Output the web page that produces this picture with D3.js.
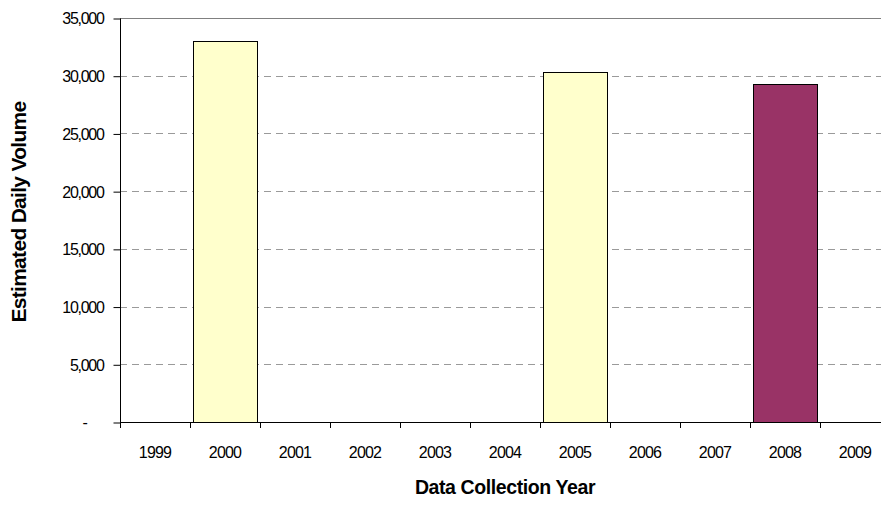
<!DOCTYPE html>
<html>
<head>
<meta charset="utf-8">
<script src="https://cdn.jsdelivr.net/npm/d3@7"></script>
<style>
  html, body { margin: 0; padding: 0; background: #fff; }
  svg { display: block; font-family: "Liberation Sans", Arial, sans-serif; }
</style>
</head>
<body>
<svg id="chart" width="881" height="506"></svg>
<script>
const years = ["1999","2000","2001","2002","2003","2004","2005","2006","2007","2008","2009"];
const volumes = [null, 33050, null, null, null, null, 30300, null, null, 29300, null];
const barColors = ["#FFFFCC","#FFFFCC","#FFFFCC","#FFFFCC","#FFFFCC","#FFFFCC","#FFFFCC","#FFFFCC","#FFFFCC","#993366","#FFFFCC"];
const yTicks = [0, 5000, 10000, 15000, 20000, 25000, 30000, 35000];
const yTickLabels = ["-", "5,000", "10,000", "15,000", "20,000", "25,000", "30,000", "35,000"];
const xTitle = "Data Collection Year";
const yTitle = "Estimated Daily Volume";

const svg = d3.select("#chart");
const pLeft = 120, pRight = 890, pTop = 18, pBottom = 422;

const x = d3.scaleBand().domain(years).range([pLeft, pRight])
  .paddingInner(6/70).paddingOuter(3/70);
const y = d3.scaleLinear().domain([0, 35000]).range([pBottom, pTop]);

// gridlines
const grid = svg.append("g");
yTicks.filter(v => v > 0).forEach(v => {
  grid.append("line")
    .attr("x1", pLeft).attr("x2", pRight)
    .attr("y1", Math.round(y(v)) + 0.5).attr("y2", Math.round(y(v)) + 0.5)
    .attr("stroke", v === 35000 ? "#808080" : "#9a9a9a")
    .attr("stroke-width", 1)
    .attr("stroke-dasharray", v === 35000 ? null : "7,5");
});

// bars
const data = years.map((yr, i) => ({ yr, v: volumes[i], c: barColors[i] })).filter(d => d.v != null);
svg.append("g").selectAll("rect").data(data).enter().append("rect")
  .attr("x", d => Math.round(x(d.yr)) + 0.5)
  .attr("y", d => Math.round(y(d.v)) + 0.5)
  .attr("width", Math.round(x.bandwidth()))
  .attr("height", d => Math.round(y(0)) - Math.round(y(d.v)))
  .attr("fill", d => d.c)
  .attr("stroke", "#000")
  .attr("stroke-width", 1);

// y axis
const yAxis = d3.axisLeft(y).tickValues(yTicks).tickSize(7).tickPadding(0)
  .tickFormat((d, i) => yTickLabels[i]);
const gy = svg.append("g").attr("transform", `translate(${pLeft + 0.5},0.5)`).call(yAxis);
gy.select(".domain").attr("stroke", "#000").attr("d", `M0,${pTop}V${pBottom}`);
gy.selectAll(".tick line").attr("stroke", "#000");
gy.selectAll(".tick text")
  .attr("font-size", 16).attr("letter-spacing", "-1.3px").attr("fill", "#000")
  .attr("x", (d, i) => i === 0 ? -34 : -17).attr("dy", "0.34em")
  .attr("font-family", "Liberation Sans, Arial, sans-serif");

// x axis
const boundaries = years.map(yr => x(yr) - x.step() * x.paddingInner() / 2).concat([pRight]);
const gx = svg.append("g");
gx.append("line").attr("x1", pLeft).attr("x2", pRight)
  .attr("y1", pBottom + 0.5).attr("y2", pBottom + 0.5).attr("stroke", "#000");
gx.selectAll("line.tk").data(boundaries).enter().append("line")
  .attr("class", "tk")
  .attr("x1", d => Math.round(d) + 0.5).attr("x2", d => Math.round(d) + 0.5)
  .attr("y1", pBottom).attr("y2", pBottom + 6).attr("stroke", "#000");
gx.selectAll("text").data(years).enter().append("text")
  .attr("x", d => x(d) + x.bandwidth() / 2)
  .attr("y", 458)
  .attr("text-anchor", "middle")
  .attr("font-size", 16).attr("letter-spacing", "-0.8px")
  .text(d => d);

// titles
svg.append("text")
  .attr("x", (pLeft + pRight) / 2).attr("y", 494)
  .attr("text-anchor", "middle")
  .attr("font-size", 19.5).attr("font-weight", "bold").attr("letter-spacing", "-0.4px")
  .text(xTitle);

svg.append("text")
  .attr("transform", `translate(26,212) rotate(-90)`)
  .attr("text-anchor", "middle")
  .attr("font-size", 21).attr("font-weight", "bold").attr("letter-spacing", "-0.7px")
  .text(yTitle);
</script>
</body>
</html>
